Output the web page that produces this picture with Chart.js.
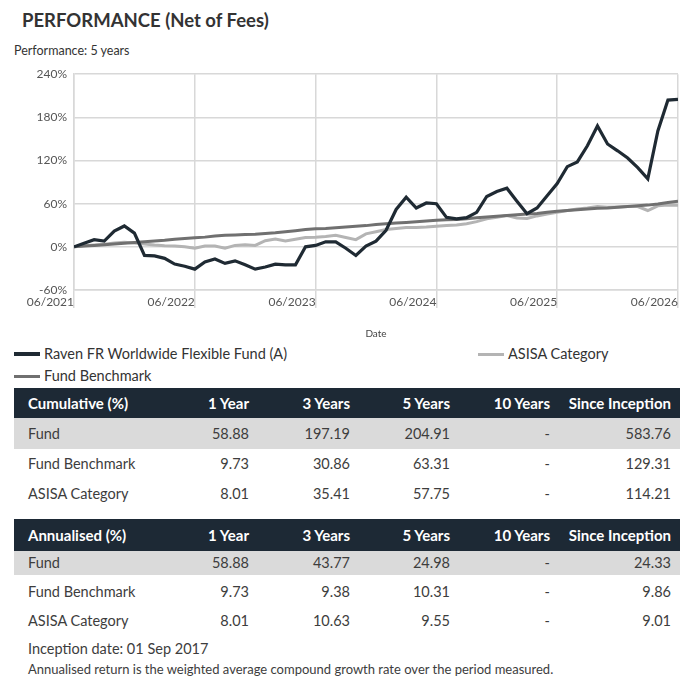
<!DOCTYPE html>
<html>
<head>
<meta charset="utf-8">
<script src="https://cdn.jsdelivr.net/npm/chart.js@4/dist/chart.umd.min.js"></script>
<style>
  body { margin: 0; background: #fff; font-family: Lato, "Open Sans", sans-serif; color: #3d3d3d; }
  #page { position: relative; width: 700px; height: 685px; overflow: hidden; }
  .abs { position: absolute; white-space: nowrap; }
  #title { left: 22px; top: 9px; font-size: 18.5px; font-weight: bold; color: #333; }
  #subtitle { left: 14px; top: 43px; font-size: 12.5px; color: #333; }
  #chartBox { position: absolute; left: 0; top: 60px; width: 700px; height: 285px; }
  .leg { position: absolute; font-size: 14.5px; color: #333; line-height: 18px; }
  .leg i { position: absolute; left: -30px; top: 8px; width: 26px; height: 3px; }
  .row { position: absolute; left: 14px; width: 666px; }
  .cell { position: absolute; top: 0; white-space: nowrap; }
  .hdr { background: #1d2935; color: #fff; font-weight: bold; font-size: 15px; }
  .body { font-size: 14.5px; color: #3d3d3d; }
  .grey { background: #dadada; }
</style>
</head>
<body>
<div id="page">
  <div id="title" class="abs">PERFORMANCE (Net of Fees)</div>
  <div id="subtitle" class="abs">Performance: 5 years</div>
  <div id="chartBox"><canvas id="myChart"></canvas></div>
  <div id="legend"></div>
  <div id="tables"></div>
  <div class="abs" style="left:28px; top:640px; font-size:14.5px;">Inception date: 01 Sep 2017</div>
  <div class="abs" style="left:28px; top:661px; font-size:13px;">Annualised return is the weighted average compound growth rate over the period measured.</div>
</div>
<script>
// monthly cumulative returns (%), 06/2021 .. 06/2026
const fund = [0, 5, 10, 8, 22, 29, 19, -12, -12.5, -16, -24, -27, -31, -21, -17, -23, -19.5, -25, -31, -28,
  -24, -25, -25, 0, 2, 7, 7, -2, -12, 1, 8, 23, 52, 69, 54, 61, 60, 41, 39, 40.5,
  48, 70, 77, 81.5, 63.5, 46, 54, 71, 88, 111.5, 118, 140.5, 168, 143, 133.5, 123.5, 110, 94.5, 161, 204, 204.91];
const benchmark = [0, 1, 2, 3, 4, 5, 6, 7, 8, 9, 10.5, 11.5, 12.5, 13.5, 15, 16, 16.5, 17, 17.5, 18.5,
  19.5, 21, 22.5, 24, 25, 25.5, 26.5, 27.5, 28.5, 29.5, 31, 32, 33, 34, 35, 36, 37, 37.5, 38, 39,
  40.5, 41.5, 42.5, 43.5, 44.5, 45.5, 46.5, 48, 49.5, 50.5, 51.5, 52.5, 53.5, 54, 55, 56, 57, 58, 59.5, 61.5, 63.31];
const category = [0, 1.5, 2.5, 3.5, 5.5, 6.5, 5.5, 4, 2.5, 1.5, 1, 0, -2, 1, 1, -2, 2, 3, 2, 8.5,
  11, 8, 10.5, 13, 13.5, 14.5, 16, 13, 10, 18, 21, 24, 25.5, 27, 27, 27.5, 28.5, 29.5, 30.5, 32,
  35, 39, 41, 43.5, 40, 39.5, 43, 45.5, 48, 50.5, 52.5, 54, 56, 55, 55.5, 56, 56, 50.5, 57, 58, 57.75];

const xTickLabels = ['06/2021', '06/2022', '06/2023', '06/2024', '06/2025', '06/2026'];
const seriesNames = ['Raven FR Worldwide Flexible Fund (A)', 'Fund Benchmark', 'ASISA Category'];

const tableCols = ['1 Year', '3 Years', '5 Years', '10 Years', 'Since Inception'];
const cumulative = [
  ['Fund', '58.88', '197.19', '204.91', '-', '583.76'],
  ['Fund Benchmark', '9.73', '30.86', '63.31', '-', '129.31'],
  ['ASISA Category', '8.01', '35.41', '57.75', '-', '114.21'],
];
const annualised = [
  ['Fund', '58.88', '43.77', '24.98', '-', '24.33'],
  ['Fund Benchmark', '9.73', '9.38', '10.31', '-', '9.86'],
  ['ASISA Category', '8.01', '10.63', '9.55', '-', '9.01'],
];

const colors = ['#1f2a33', '#707070', '#b4b4b4'];
const gridColor = '#d8d8d8';

const toXY = arr => arr.map((v, i) => ({ x: i, y: v }));

const data = {
    datasets: [fund, benchmark, category].map((s, i) => ({
        label: seriesNames[i],
        data: toXY(s),
        borderColor: colors[i],
        backgroundColor: colors[i],
        borderWidth: i === 0 ? 3.2 : 3,
        pointRadius: 0,
        tension: 0,
    })),
};

const config = {
    type: 'line',
    data: data,
    options: {
        responsive: true,
        maintainAspectRatio: false,
        animation: false,
        layout: { padding: { left: 0, right: 22, top: 13, bottom: 0 } },
        plugins: {
            legend: { display: false },
            tooltip: { enabled: false },
        },
        scales: {
            x: {
                type: 'linear',
                min: 0,
                max: 60,
                afterFit: s => { s.height = 55; },
                grid: { color: gridColor, lineWidth: 1.5, tickLength: 18, tickColor: gridColor },
                border: { color: gridColor, width: 1.5 },
                ticks: {
                    stepSize: 12,
                    align: 'end',
                    padding: -13,
                    maxRotation: 0,
                    color: '#555',
                    font: { family: 'Lato', size: 12 },
                    callback: v => xTickLabels[v / 12],
                },
                title: {
                    display: true,
                    text: 'Date',
                    color: '#444',
                    font: { family: 'Lato', size: 10 },
                    padding: { top: 0, bottom: 5 },
                },
            },
            y: {
                min: -60,
                max: 240,
                afterFit: s => { s.width = 74; },
                grid: { color: gridColor, lineWidth: 1.5, drawTicks: false },
                border: { color: gridColor, width: 1.5 },
                ticks: {
                    stepSize: 60,
                    padding: 7,
                    color: '#555',
                    font: { family: 'Lato', size: 12 },
                    callback: v => v + '%',
                },
            },
        },
    },
};

const ctx = document.getElementById('myChart').getContext('2d');
const myChart = new Chart(ctx, config);

// legend, laid out in two rows, column first
const legend = document.getElementById('legend');
myChart.data.datasets.forEach((ds, i) => {
    const item = document.createElement('div');
    item.className = 'leg';
    item.style.left = (i < 2 ? 44 : 508) + 'px';
    item.style.top = (i === 1 ? 367 : 345) + 'px';
    item.innerHTML = '<i style="background:' + ds.borderColor + (i === 0 ? ';height:4px;top:7px' : '') + '"></i>' + ds.label;
    legend.appendChild(item);
});

// tables
const colRight = [235, 336, 436, 536, 657];
const tables = document.getElementById('tables');
function addRow(cells, top, h, cls) {
    const row = document.createElement('div');
    row.className = 'row ' + cls;
    row.style.top = top + 'px';
    row.style.height = h + 'px';
    cells.forEach((t, j) => {
        const c = document.createElement('div');
        c.className = 'cell';
        c.textContent = t;
        c.style.lineHeight = h + 'px';
        if (j === 0) c.style.left = '14px';
        else c.style.right = (666 - colRight[j - 1]) + 'px';
        row.appendChild(c);
    });
    tables.appendChild(row);
}
function addTable(title, rows, top, hH, rowSpec) {
    addRow([title].concat(tableCols), top, hH, 'hdr');
    rows.forEach((r, k) => addRow(r, rowSpec[k][0], rowSpec[k][1], k === 0 ? 'body grey' : 'body'));
}
addTable('Cumulative (%)', cumulative, 388, 30, [[418, 31], [449, 30], [479, 29]]);
addTable('Annualised (%)', annualised, 519, 32, [[551, 24], [577, 29], [606, 29]]);
</script>
</body>
</html>
